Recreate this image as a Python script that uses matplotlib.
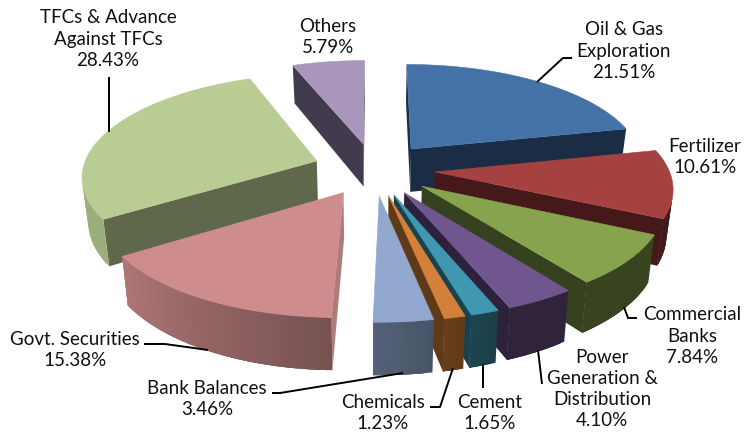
import numpy as np
import matplotlib
matplotlib.use("Agg")
import matplotlib.pyplot as plt
from matplotlib.patches import Polygon

plt.rcParams["font.family"] = ["Lato", "DejaVu Sans"]

# data
labels = ["Oil & Gas\nExploration", "Fertilizer", "Commercial\nBanks",
          "Power\nGeneration &\nDistribution", "Cement", "Chemicals",
          "Bank Balances", "Govt. Securities", "TFCs & Advance\nAgainst TFCs", "Others"]
values = [21.51, 10.61, 7.84, 4.10, 1.65, 1.23, 3.46, 15.38, 28.43, 5.79]

# colours
top_colors = ["#4472A6", "#A5423F", "#87A34D", "#70568F", "#3F97B0",
              "#D5803A", "#92A8CF", "#CE8C8C", "#B8CC93", "#A897BB"]
side_colors = ["#1A2D45", "#45191A", "#36421F", "#2D213B", "#1A424D",
               "#5E3A18", "#576581", "#AE7B7B", "#60684C", "#423B4D"]

# where the labels and leader lines go (pixels)
label_xy = [(624, 51), (705, 157), (692, 336), (602, 389), (490, 413),
            (383, 413), (207, 399), (75, 350), (108, 39), (328, 37)]
leaders = [[(537, 82), (563, 58), (572, 58)],
           [],
           [(624, 307), (628, 318), (637, 318)],
           [(538, 350), (542, 384)],
           [(483, 364), (483, 388)],
           [(453, 368), (440, 407), (430, 407)],
           [(403, 373), (280, 393), (272, 393)],
           [(208, 350), (165, 344), (144, 344)],
           [(109, 132), (109, 77)],
           []]

# pie geometry
cx, cy = 374, 169
rx, ry = 234, 101
persp = 0.135
explode = 0.26
depth = 44
shrink = 0.978


def project(u, v):
    w = 1 - persp * v
    return cx + rx * u / w, cy + ry * v / w, depth / w


def side_shade(theta):
    return np.interp(theta, [0, 160, 170, 181, 237, 360],
                     [0.4, 0.42, 0.5, 0.58, 0.85, 0.87])


def darker(color, f):
    return tuple(c * f for c in matplotlib.colors.to_rgb(color))


def corners(u, v):
    x, y, d = project(u, v)
    return (x, y), (cx + (x - cx) * shrink, y + d)


def visible(a, b, c, d):
    pts = [a, b, c, d]
    s = 0
    for i in range(4):
        s += pts[i][0] * pts[(i + 1) % 4][1] - pts[(i + 1) % 4][0] * pts[i][1]
    return s < 0


fig = plt.figure(figsize=(7.44, 4.34), dpi=100)
ax = fig.add_axes([0, 0, 1, 1])
ax.set_xlim(0, 744)
ax.set_ylim(434, 0)
ax.axis("off")

edges = np.cumsum([0] + values) / sum(values) * 360
mids = (edges[:-1] + edges[1:]) / 2
order = np.argsort(-np.cos(np.radians(mids)))

for i in order:
    t0, t1, tm = edges[i], edges[i + 1], mids[i]
    ou = explode * np.sin(np.radians(tm))
    ov = -explode * np.cos(np.radians(tm))
    thetas = np.linspace(t0, t1, max(3, int(t1 - t0) + 2))
    us = ou + np.sin(np.radians(thetas))
    vs = ov - np.cos(np.radians(thetas))
    apex_t, apex_b = corners(ou, ov)
    rim = [corners(u, v) for u, v in zip(us, vs)]

    # cut faces
    for a, b, c, d in [(apex_t, rim[0][0], rim[0][1], apex_b),
                       (rim[-1][0], apex_t, apex_b, rim[-1][1])]:
        if visible(a, b, c, d):
            ax.add_patch(Polygon([a, b, c, d], fc=side_colors[i], ec="none"))
    # outer wall: strips overlap the next one so no seams show
    for j in range(len(rim) - 1):
        k = min(j + 3, len(rim) - 1)
        a, b, c, d = rim[j][0], rim[k][0], rim[k][1], rim[j][1]
        if visible(rim[j][0], rim[j + 1][0], rim[j + 1][1], rim[j][1]):
            col = darker(top_colors[i], side_shade((thetas[j] + thetas[j + 1]) / 2))
            ax.add_patch(Polygon([a, b, c, d], fc=col, ec="none"))
    # top
    top = [apex_t] + [r[0] for r in rim]
    ax.add_patch(Polygon(top, fc=top_colors[i], ec=top_colors[i], lw=0.4))

for name, val, (x, y), line in zip(labels, values, label_xy, leaders):
    ax.text(x, y, "%s\n%.2f%%" % (name, val), ha="center", va="center",
            fontsize=13.5, color="#111111", linespacing=1.3)
    if line:
        xs, ys = zip(*line)
        ax.plot(xs, ys, color="black", lw=1.4, solid_capstyle="butt")

fig.savefig("out.png", dpi=100)
